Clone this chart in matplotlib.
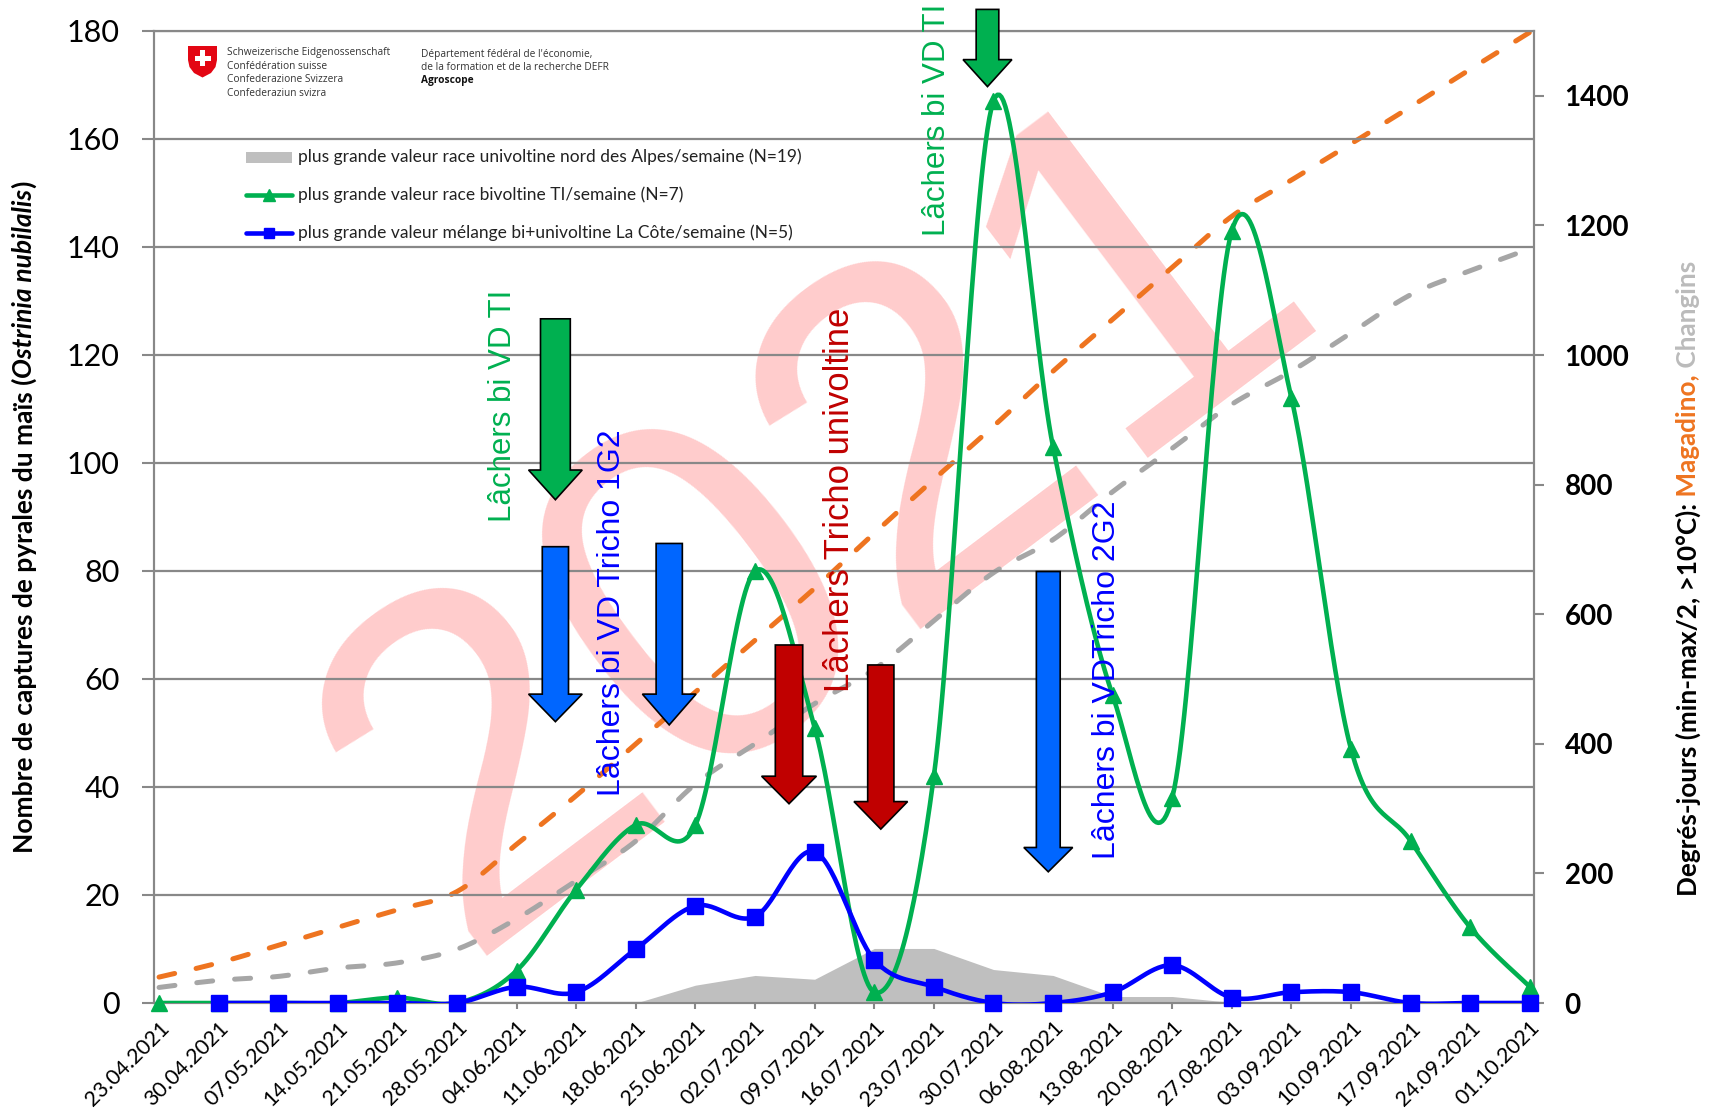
import numpy as np
import matplotlib
matplotlib.use("Agg")
import matplotlib.pyplot as plt
from matplotlib.patches import Polygon, Rectangle
from matplotlib.lines import Line2D

# ---------------- data ----------------
dates = ["23.04.2021", "30.04.2021", "07.05.2021", "14.05.2021", "21.05.2021", "28.05.2021",
         "04.06.2021", "11.06.2021", "18.06.2021", "25.06.2021", "02.07.2021", "09.07.2021",
         "16.07.2021", "23.07.2021", "30.07.2021", "06.08.2021", "13.08.2021", "20.08.2021",
         "27.08.2021", "03.09.2021", "10.09.2021", "17.09.2021", "24.09.2021", "01.10.2021"]
bivoltine_ti = [0, 0, 0, 0, 1, 0, 6, 21, 33, 33, 80, 51, 2, 42, 167, 103, 57, 38, 143, 112, 47, 30, 14, 3]
melange_cote = [np.nan, 0, 0, 0, 0, 0, 3, 2, 10, 18, 16, 28, 8, 3, 0, 0, 2, 7, 1, 2, 2, 0, 0, 0]
univoltine_nord = [0, 0, 0, 0, 0, 0, 0, 0, 0, 3.3, 5.1, 4.4, 10.1, 10.1, 6.2, 5.1, 1.2, 1.2, 0.1, 0, 0.3, 0.5, 0, 0]
dd_magadino = [40, 62, 89, 117, 144, 172, 245, 320, 400, 480, 560, 640, 725, 808, 890, 975,
               1055, 1135, 1214, 1270, 1326, 1383, 1441, 1498]
dd_changins = [24, 35, 41, 54, 62, 83, 130, 189, 250, 338, 400, 462, 515, 590, 664, 715,
               789, 856, 924, 975, 1034, 1093, 1130, 1164]

legend_labels = ["plus grande valeur race univoltine nord des Alpes/semaine (N=19)",
                 "plus grande valeur race bivoltine TI/semaine (N=7)",
                 "plus grande valeur mélange bi+univoltine La Côte/semaine (N=5)"]

# annotations: (x centre, top, head start, tip, body half width, head half width, colour)
arrows = [
    (6.65, 126.7, 98.7, 93.2, 0.25, 0.45, "#00B050"),
    (13.9, 184.0, 174.7, 169.7, 0.19, 0.41, "#00B050"),
    (6.65, 84.5, 57.2, 52.1, 0.22, 0.45, "#0066FF"),
    (8.56, 85.1, 57.2, 51.5, 0.22, 0.45, "#0066FF"),
    (10.57, 66.3, 42.0, 36.9, 0.23, 0.46, "#C00000"),
    (12.11, 62.6, 37.3, 32.2, 0.22, 0.45, "#C00000"),
    (14.92, 79.9, 28.8, 24.3, 0.20, 0.41, "#0066FF"),
]
notes = [
    (5.77, 110.5, "Lâchers bi VD TI", "#00B050", 22.5),
    (13.05, 163.6, "Lâchers bi VD TI", "#00B050", 22.5),
    (7.6, 72.2, "Lâchers bi VD Tricho 1G2", "#0000FF", 23),
    (11.42, 93.1, "Lâchers Tricho univoltine", "#C00000", 25),
    (15.9, 59.8, "Lâchers bi VDTricho 2G2", "#0000FF", 23),
]

GREEN = "#00B050"
BLUE = "#0000FF"
ORANGE = "#EE7420"
LGRAY = "#A6A6A6"
AREA = "#BFBFBF"
GRID = "#888888"

plt.rcParams['font.family'] = ['Lato', 'DejaVu Sans']

W, H = 1713, 1112
L, R, T, B = 154, 1534, 31, 1003
fig = plt.figure(figsize=(W / 100, H / 100), dpi=100)
ax = fig.add_axes([L / W, 1 - B / H, (R - L) / W, (B - T) / H])
ax2 = ax.twinx()
ax.set_zorder(ax2.get_zorder() + 1)
ax.patch.set_visible(False)


def smooth(xs, ys, n=30):
    P = np.column_stack([np.asarray(xs, float), np.asarray(ys, float)])
    out = []
    for i in range(len(P) - 1):
        p0 = P[i - 1] if i > 0 else P[i]
        p1, p2 = P[i], P[i + 1]
        p3 = P[i + 2] if i + 2 < len(P) else P[i + 1]
        c1 = p1 + (p2 - p0) / 6
        c2 = p2 - (p3 - p1) / 6
        t = np.linspace(0, 1, n, endpoint=(i == len(P) - 2))[:, None]
        out.append((1 - t) ** 3 * p1 + 3 * (1 - t) ** 2 * t * c1 + 3 * (1 - t) * t ** 2 * c2 + t ** 3 * p2)
    return np.vstack(out)


x = np.arange(len(dates))
ax.set_xlim(-0.085, len(dates) - 1 + 0.07)
ax.set_ylim(0, 180)
ax2.set_ylim(0, 1500)

# watermark (drawn beneath everything)
ax2.text(11.1, 88, "2021", transform=ax.transData, fontsize=352, color="#FF9A9A", alpha=0.5,
         rotation=37, ha="center", va="center", family="Liberation Sans", zorder=0.5)

# degree-day curves
s = smooth(x, dd_magadino)
ax2.plot(s[:, 0], s[:, 1], color=ORANGE, lw=3.6, dashes=(3.2, 4.4), dash_capstyle="round", zorder=2)
s = smooth(x, dd_changins)
ax2.plot(s[:, 0], s[:, 1], color=LGRAY, lw=3.6, dashes=(3.2, 4.4), dash_capstyle="round", zorder=2)

# area
ax.fill_between(x, univoltine_nord, 0, color=AREA, lw=0, zorder=1.2)

# green series
s = smooth(x, bivoltine_ti)
ax.plot(s[:, 0], s[:, 1], color=GREEN, lw=3.3, zorder=3, solid_capstyle="round")
ax.plot(x, bivoltine_ti, ls="none", marker="^", ms=12, color=GREEN, zorder=3.1, clip_on=False)

# blue series
mc = np.array(melange_cote, float)
ok = ~np.isnan(mc)
s = smooth(x[ok], mc[ok])
ax.plot(s[:, 0], s[:, 1], color=BLUE, lw=3.3, zorder=3.2, solid_capstyle="round")
ax.plot(x[ok], mc[ok], ls="none", marker="s", ms=11.5, color=BLUE, zorder=3.3, clip_on=False)

# arrows
for cx, top, hs, tip, bw, hw, col in arrows:
    verts = [(cx - bw, top), (cx + bw, top), (cx + bw, hs), (cx + hw, hs), (cx, tip),
             (cx - hw, hs), (cx - bw, hs)]
    ax.add_patch(Polygon(verts, closed=True, facecolor=col, edgecolor="black", lw=1.2,
                         zorder=5, clip_on=False))
for nx, ny, txt, col, fs in notes:
    ax.text(nx, ny, txt, rotation=90, ha="center", va="center", color=col, fontsize=fs,
            family="Liberation Sans", zorder=6, clip_on=False)

# axes styling
ax.set_yticks(np.arange(0, 181, 20))
ax2.set_yticks(np.arange(0, 1401, 200))
ax.set_xticks(x)
ax.set_xticklabels(dates, rotation=45, ha="right", rotation_mode="anchor", fontsize=15.5)
ax.yaxis.grid(True, color=GRID, lw=1.6)
ax.set_axisbelow(True)
ax.tick_params(axis="y", length=8.6, width=1.5, color=GRID, pad=16, labelsize=22)
ax.tick_params(axis="x", length=4.5, width=1.5, color=GRID, pad=6)
ax2.tick_params(axis="y", length=7, width=1.5, color=GRID, pad=15, labelsize=20)
for lbl in ax2.get_yticklabels():
    lbl.set_fontweight("bold")
for a in (ax, ax2):
    for sp in a.spines.values():
        sp.set_color(GRID)
        sp.set_linewidth(1.5)

# overlay axes in pixel units for header & legend
ov = fig.add_axes([0, 0, 1, 1], zorder=10)
ov.set_xlim(0, W)
ov.set_ylim(H, 0)
ov.axis("off")

shield = [(188, 46), (217, 46), (217, 60), (215.5, 67), (211, 73), (202.5, 77.5), (194, 73),
          (189.5, 67), (188, 60)]
ov.add_patch(Polygon(shield, closed=True, facecolor="#E30613", edgecolor="none"))
ov.add_patch(Rectangle((194.5, 55.6), 16, 5.4, facecolor="white", edgecolor="none"))
ov.add_patch(Rectangle((199.8, 50.3), 5.4, 16, facecolor="white", edgecolor="none"))
for i, line in enumerate(["Schweizerische Eidgenossenschaft", "Confédération suisse",
                          "Confederazione Svizzera", "Confederaziun svizra"]):
    ov.text(227, 53 + i * 13.4, line, fontsize=7.3, family=["Open Sans", "DejaVu Sans"],
            color="#333333", va="center")
for i, line in enumerate(["Département fédéral de l'économie,",
                          "de la formation et de la recherche DEFR", "Agroscope"]):
    ov.text(421, 54 + i * 13.4, line, fontsize=7.3, family=["Open Sans", "DejaVu Sans"],
            color="#111111" if i == 2 else "#333333", va="center",
            fontweight="bold" if i == 2 else "normal")

# legend (manual)
rows = [157, 195, 233]
ov.add_patch(Rectangle((246, 151.5), 46, 11, facecolor=AREA, edgecolor="none"))
ov.add_line(Line2D([246, 292], [rows[1], rows[1]], color=GREEN, lw=3.3, solid_capstyle="round"))
ov.plot([269], [rows[1]], marker="^", ms=8, color=GREEN)
ov.add_line(Line2D([246, 292], [rows[2], rows[2]], color=BLUE, lw=3.3, solid_capstyle="round"))
ov.plot([269], [rows[2]], marker="s", ms=7.5, color=BLUE)
for yy, lab in zip(rows, legend_labels):
    ov.text(298, yy, lab, fontsize=12.5, va="center", color="#222222")

# multi-part rotated labels
renderer = fig.canvas.get_renderer()


def rotated_label(xc, ycenter, pieces, fontsize, ybottom=None):
    texts = []
    for txt, col, style in pieces:
        t = fig.text(0, 0, txt, rotation=90, rotation_mode="anchor", ha="left", va="center",
                     color=col, fontsize=fontsize, fontweight="bold", fontstyle=style)
        texts.append(t)
    lens = [t.get_window_extent(renderer).height for t in texts]
    total = sum(lens)
    y = ybottom if ybottom is not None else ycenter + total / 2
    for t, ln in zip(texts, lens):
        t.set_position((xc / W, 1 - y / H))
        y -= ln


rotated_label(24, 517, [("Nombre de captures de pyrales du maïs (", "black", "normal"),
                        ("Ostrinia nubilalis", "black", "italic"),
                        (")", "black", "normal")], 19)
rotated_label(1688, None, [("Degrés-jours (min-max/2, >10°C):", "black", "normal"),
                           (" Magadino,", ORANGE, "normal"),
                           (" Changins", "#BBBBBB", "normal")], 18.8, ybottom=896)

fig.savefig("out.png", dpi=100)
